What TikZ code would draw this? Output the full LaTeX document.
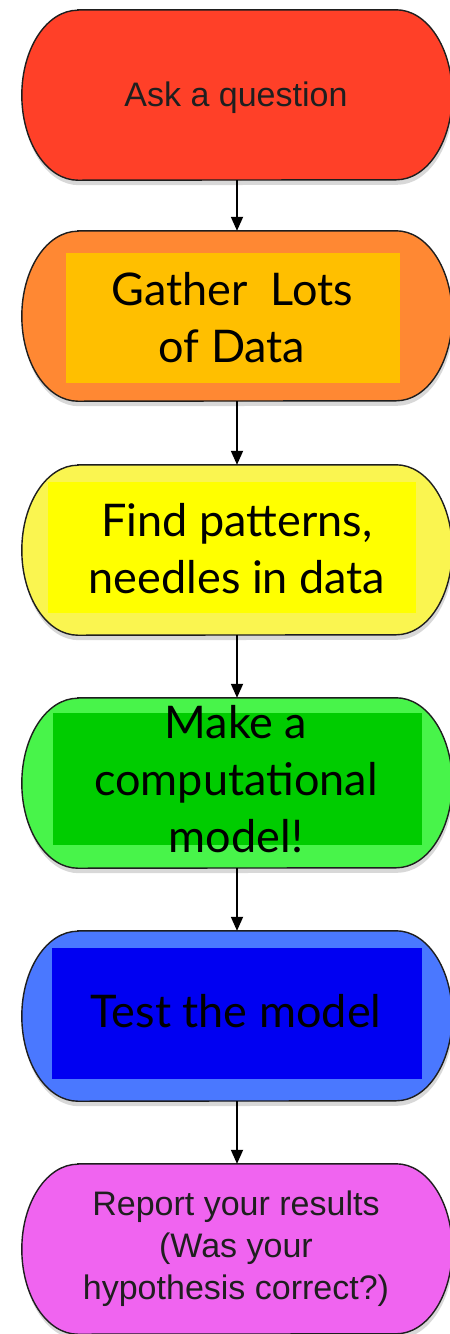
\documentclass[tikz,border=0pt]{standalone}
\usepackage{fontspec}
\setmainfont{Liberation Sans}
\newfontfamily\handfont{Lato}
\usetikzlibrary{shadows,backgrounds,arrows.meta}
\definecolor{cred}{RGB}{255,64,40}
\definecolor{corange}{RGB}{255,136,51}
\definecolor{corangein}{RGB}{255,191,0}
\definecolor{cyellow}{RGB}{250,245,80}
\definecolor{cyellowin}{RGB}{255,255,0}
\definecolor{cgreen}{RGB}{72,244,74}
\definecolor{cgreenin}{RGB}{0,204,0}
\definecolor{cblue}{RGB}{74,120,255}
\definecolor{cbluein}{RGB}{0,0,242}
\definecolor{cmag}{RGB}{240,100,240}
\definecolor{cborder}{RGB}{30,30,30}
\newcommand{\stadpath}[2]{%
  \path[draw=cborder, line width=1.4pt, fill=#2,
        drop shadow={shadow xshift=1pt, shadow yshift=-5pt, opacity=0.3}]
    ([xshift=56pt]#1.north west) -- ([xshift=-56pt]#1.north east)
    arc[start angle=90, end angle=-90, x radius=56pt, y radius=85pt]
    -- ([xshift=56pt]#1.south west)
    arc[start angle=270, end angle=90, x radius=56pt, y radius=85pt]
    -- cycle;}
\tikzset{
  stadbox/.style={rectangle, draw=none, minimum width=430pt, minimum height=170pt, inner sep=0pt},
  innerbox/.style={rectangle, draw=none, inner sep=0pt},
  handtext/.style={font=\handfont\fontsize{45}{57}\selectfont, align=center, text=black, inner sep=0pt},
  sanstext/.style={font=\fontsize{34}{42}\selectfont, align=center, text=black!88, inner sep=0pt},
  arr/.style={-{Triangle[length=14pt,width=12pt]}, line width=1.8pt, black}
}
\begin{document}
\begin{tikzpicture}[x=1pt, y=-1pt]
\useasboundingbox (0,0) rectangle (450,1334);
\fill[white] (0,0) rectangle (450,1334);
% box frames
\node[stadbox] (s1) at (237,95) {};
\node[stadbox] (s2) at (237,316) {};
\node[stadbox] (s3) at (237,550) {};
\node[stadbox] (s4) at (237,783) {};
\node[stadbox] (s5) at (237,1016) {};
\node[stadbox] (s6) at (237,1249) {};
\stadpath{s1}{cred}
\stadpath{s2}{corange}
\stadpath{s3}{cyellow}
\stadpath{s4}{cgreen}
\stadpath{s5}{cblue}
\stadpath{s6}{cmag}
% inner rectangles
\node[innerbox, fill=corangein, minimum width=334pt, minimum height=130pt] (i2) at (233,318) {};
\node[innerbox, fill=cyellowin, minimum width=368pt, minimum height=131pt] (i3) at (232,547.5) {};
\node[innerbox, fill=cgreenin, minimum width=369pt, minimum height=132pt] (i4) at (237.5,779) {};
\node[innerbox, fill=cbluein, minimum width=370pt, minimum height=131pt] (i5) at (237,1013.5) {};
% texts
\node[sanstext, anchor=base] (t1) at (236,106) {Ask a question};
\node[handtext] (t2) at (232,318) {Gather~~Lots\\of Data};
\node[handtext] (t3) at (237,549) {Find patterns,\\needles in data};
\node[handtext] (t4) at (236,779) {Make a\\computational\\model!};
\node[handtext, anchor=base] (t5) at (236,1027) {Test the model};
\node[sanstext] (t6) at (236,1249) {Report your results\\(Was your\\hypothesis correct?)};
% connectors
\draw[arr] (s1.south) -- (s2.north);
\draw[arr] (s2.south) -- (s3.north);
\draw[arr] (s3.south) -- (s4.north);
\draw[arr] (s4.south) -- (s5.north);
\draw[arr] (s5.south) -- (s6.north);
\end{tikzpicture}
\end{document}
